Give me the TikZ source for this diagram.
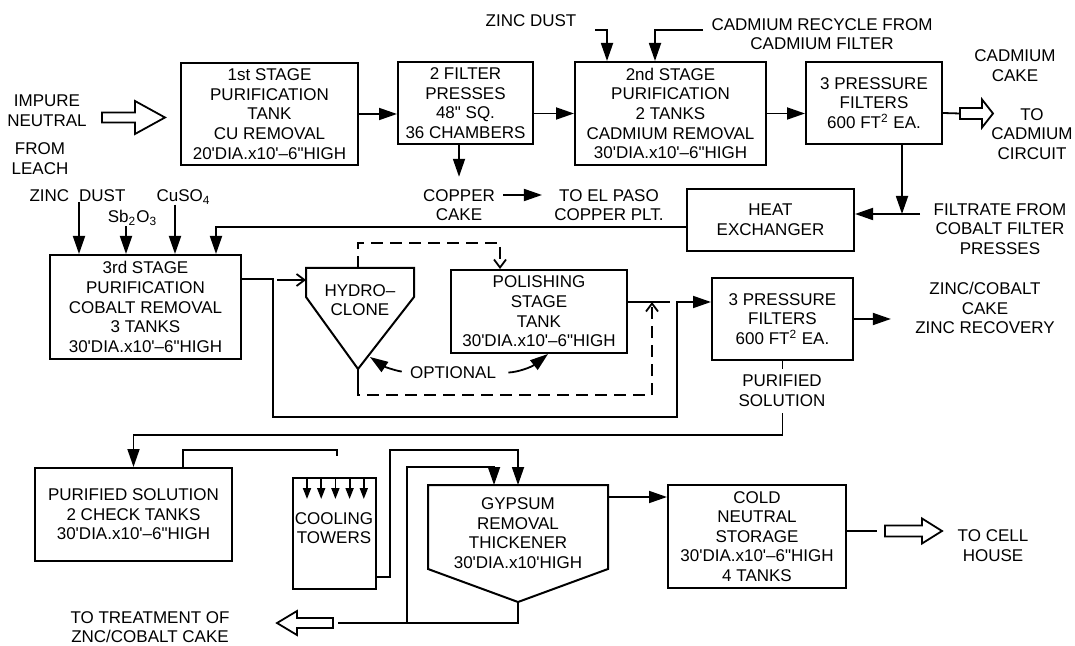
\documentclass[tikz,border=0pt]{standalone}
\usepackage{fontspec}
\setmainfont{Liberation Sans}
\usetikzlibrary{arrows.meta}
\newcommand{\pr}{\textquotesingle}
\newcommand{\inch}{\textquotedbl}

\begin{document}
\begin{tikzpicture}[x=0.5pt, y=-0.5pt,
    font=\fontsize{8.5}{9.8}\selectfont,
    tank/.style={draw, line width=1pt, align=center, inner sep=0pt},
    txt/.style={align=center, inner sep=0pt},
    ln/.style={line width=0.9pt},
    a/.style={ln, -{Triangle[length=9pt,width=6pt]}},
    sa/.style={ln, -{Triangle[length=5.5pt,width=4pt]}},
    oa/.style={ln, -{Straight Barb[length=4pt,width=6pt]}},
    dsh/.style={dash pattern=on 6pt off 3.5pt},
    hollow/.style={draw, line width=0.9pt, fill=white},
    pics/fat/.style args={#1/#2/#3/#4}{code={
      \draw[hollow] (0,-#3) -- ({#1-#2},-#3) -- ({#1-#2},-#4) -- (#1,0)
        -- ({#1-#2},#4) -- ({#1-#2},#3) -- (0,#3) -- cycle;}},
  ]
  \useasboundingbox (0,0) rectangle (1075,646);

  % tanks and filters
  \node[tank, minimum width=88.5pt, minimum height=51pt] (first) at (269.5,114)
    {1st STAGE\\PURIFICATION\\TANK\\CU REMOVAL\\20\pr DIA.x10\pr--6\inch HIGH};
  \node[tank, minimum width=67.5pt, minimum height=41pt] (fp) at (465.5,103)
    {2 FILTER\\PRESSES\\48\inch{} SQ.\\36 CHAMBERS};
  \node[tank, minimum width=95.5pt, minimum height=51.5pt] (second) at (670.5,113.5)
    {2nd STAGE\\PURIFICATION\\2 TANKS\\CADMIUM REMOVAL\\30\pr DIA.x10\pr--6\inch HIGH};
  \node[tank, minimum width=68pt, minimum height=41pt] (pf1) at (874,103)
    {3 PRESSURE\\FILTERS\\600 FT\textsuperscript{2} EA.};
  \node[tank, minimum width=83.5pt, minimum height=31pt] (hx) at (770.5,220)
    {HEAT\\EXCHANGER};
  \node[tank, minimum width=95.5pt, minimum height=52pt] (third) at (145.5,307)
    {3rd STAGE\\PURIFICATION\\COBALT REMOVAL\\3 TANKS\\30\pr DIA.x10\pr--6\inch HIGH};
  \node[tank, minimum width=88pt, minimum height=41.5pt] (polish) at (539,311.5)
    {POLISHING\\STAGE\\TANK\\30\pr DIA.x10\pr--6\inch HIGH};
  \node[tank, minimum width=70.5pt, minimum height=41pt] (pf2) at (782.5,319)
    {3 PRESSURE\\FILTERS\\600 FT\textsuperscript{2} EA.};
  \node[tank, minimum width=98.5pt, minimum height=46.5pt] (check) at (133.5,514.5)
    {PURIFIED SOLUTION\\2 CHECK TANKS\\30\pr DIA.x10\pr--6\inch HIGH};
  \node[tank, minimum width=41.5pt, minimum height=55.5pt] (cool) at (334.5,533.5) {};
  \node[txt] (coollbl) at (334,528) {COOLING\\TOWERS};
  \node[tank, minimum width=89pt, minimum height=51.5pt] (cold) at (757,536.5)
    {COLD\\NEUTRAL\\STORAGE\\30\pr DIA.x10\pr--6\inch HIGH\\4 TANKS};

  % hydroclone and thickener
  \coordinate (hctl) at (306,268);
  \coordinate (hctr) at (414,268);
  \coordinate (hcbl) at (306,297);
  \coordinate (hcbr) at (414,297);
  \coordinate (hcap) at (358,369);
  \draw[line width=1pt] (hctl) -- (hcbl) -- (hcap) -- (hcbr) -- (hctr) -- cycle;
  \node[txt] (hclbl) at (360,300) {HYDRO--\\CLONE};
  \coordinate (gtl) at (428,485);
  \coordinate (gtr) at (608,485);
  \coordinate (gbl) at (428,569);
  \coordinate (gbr) at (608,569);
  \coordinate (gap) at (518,602);
  \draw[line width=1pt] (gtl) -- (gbl) -- (gap) -- (gbr) -- (gtr) -- cycle;
  \node[txt] (gyplbl) at (518,533) {GYPSUM\\REMOVAL\\THICKENER\\30\pr DIA.x10\pr HIGH};

  % labels
  \node[txt] (imp) at (47,110.5) {IMPURE\\NEUTRAL};
  \node[txt] (leach) at (40,158.5) {FROM\\LEACH};
  \node[txt] (zd) at (531,21) {ZINC DUST};
  \node[txt] (cdr) at (822,34) {CADMIUM RECYCLE FROM\\CADMIUM FILTER};
  \node[txt] (cdcake) at (1015,65.5) {CADMIUM\\CAKE};
  \node[txt] (cdcirc) at (1032,134) {TO\\CADMIUM\\CIRCUIT};
  \node[txt] (cu) at (459,205) {COPPER\\CAKE};
  \node[txt] (elp) at (609,205) {TO EL PASO\\COPPER PLT.};
  \node[txt] (filt) at (1000,229) {FILTRATE FROM\\COBALT FILTER\\PRESSES};
  \node[txt] (zd2) at (77.5,196) {ZINC\hspace{5pt}DUST};
  \node[txt] (sb) at (132.5,218) {Sb\textsubscript{2}O\textsubscript{3}};
  \node[txt] (cuso) at (183.5,197) {CuSO\textsubscript{4}};
  \node[txt] (opt) at (453,373) {OPTIONAL};
  \node[txt] (zc) at (985,308) {ZINC/COBALT\\CAKE\\ZINC RECOVERY};
  \node[txt] (treat) at (150,627) {TO TREATMENT OF\\ZNC/COBALT CAKE};
  \node[txt] (cell) at (993,545.5) {TO CELL\\HOUSE};

  % first and second stage
  \coordinate (feedt) at (102,117.5);
  \pic at (feedt) {fat=63/30/5/16.5};
  \draw[a] (first.east) -- (first.east -| fp.west);
  \draw[a] (fp.east |- second.west) -- (second.west);
  \draw[a] (second.east) -- (second.east -| pf1.west);
  \coordinate (zdin) at (595,30);
  \coordinate (cdin) at (703,30);
  \draw[a] (zdin) -| ([xshift=16.5pt]second.north west);
  \draw[a] (cdin) -| ([xshift=40.5pt]second.north west);
  \draw[a, shorten >=6pt] (fp.south -| cu.north) -- (cu.north);
  \draw[a] ([xshift=4pt,yshift=5pt]cu.east) -- ([xshift=-6pt,yshift=5pt]elp.west);
  \coordinate (cadt) at (960,113.5);
  \draw[ln] ([yshift=-5pt]pf1.east) -- (cadt);
  \pic at (cadt) {fat=33/11/5.5/14};

  % filtrate and heat exchanger
  \coordinate (filtin) at (920,214);
  \coordinate (pfdown) at ([xshift=14pt]pf1.south);
  \draw[a] (filtin) -- (filtin -| hx.east);
  \draw[a] (pfdown) -- (pfdown |- filtin);
  \draw[a] ([yshift=-3.5pt]hx.west) -| ([xshift=83.5pt]third.north west);

  % third stage feeds
  \coordinate (r1) at ([xshift=15pt]third.north west);
  \coordinate (r2) at ([xshift=38.5pt]third.north west);
  \coordinate (r3) at ([xshift=63pt]third.north west);
  \draw[a] (r1 |- zd2.south) -- (r1);
  \draw[a] (r2 |- sb.south) -- (r2);
  \draw[a] (r3 |- cuso.south) -- (r3);

  % bypass to pressure filters
  \coordinate (bp1) at (273,417);
  \coordinate (bp2) at (677,417);
  \coordinate (pf2in) at ([yshift=8.5pt]pf2.west);
  \draw[a] ([yshift=14pt]third.east) -| (bp1) -- (bp2) |- (pf2in);

  % optional route
  \coordinate (opt0) at (277,280);
  \draw[oa] (opt0) -- (opt0 -| hctl);
  \coordinate (dtop) at (358,243);
  \draw[oa, dsh] (hcap |- hctl) -- (dtop) -| ([xshift=-19.5pt]polish.north);
  \coordinate (stem) at (358,385);
  \draw[ln] (hcap) -- (stem);
  \coordinate (dbot) at (652,395);
  \coordinate (pjoin) at (652,302);
  \draw[oa, dsh] (stem) |- (dbot) -- (pjoin);
  \coordinate (pend) at (670,302);
  \draw[ln] ([yshift=4.75pt]polish.east) -- (pend);
  \coordinate (hcside) at (370,357);
  \draw[a, shorten <=4pt] (opt.west) to[bend left=12] (hcside);
  \draw[a, shorten <=6pt] (opt.east) to[bend right=18] ([xshift=4.5pt]polish.south);

  % cakes and purified solution
  \draw[a, shorten >=12pt] (pf2.east) -- (pf2.east -| zc.west);
  \coordinate (ps) at (782,435);
  \draw[a] (pf2.south) -- (pf2.south |- ps) -| (check.north);
  \node[txt, fill=white, inner sep=3pt] (pure) at (782,391) {PURIFIED\\SOLUTION};

  % cooling and gypsum removal
  \coordinate (chk1) at ([xshift=24.75pt]check.north);
  \coordinate (ctop) at (337,450);
  \coordinate (spray) at (337,456);
  \draw[ln] (chk1) |- (ctop) -- (spray);
  \foreach \k in {0,...,4}
    \draw[sa] ([xshift=7.5pt+\k*7.1pt]cool.north west) -- ++(0,-11pt);
  \coordinate (cg) at (390,450);
  \coordinate (gtop) at (gap |- gtl);
  \draw[a] ([yshift=-21.75pt]cool.east) -| (cg) -| (gtop);
  \coordinate (ub) at (518,623);
  \coordinate (jn) at (407,623);
  \coordinate (rc) at (407,467);
  \coordinate (treatt) at (333,623);
  \draw[ln] (gap) -- (ub) -- ([xshift=2.5pt]treatt);
  \draw[a] (jn) -- (rc) -| ([xshift=-12pt]gtop);
  \pic[rotate=180] at (treatt) {fat=56/20/5/12};
  \coordinate (gout) at (608,497);
  \draw[a] (gout) -- (gout -| cold.west);
  \coordinate (cellt) at (885,531);
  \draw[ln] ([yshift=2.75pt]cold.east) -- ([xshift=-4pt]cellt);
  \pic at (cellt) {fat=57/20/5.5/12.5};
\end{tikzpicture}
\end{document}
